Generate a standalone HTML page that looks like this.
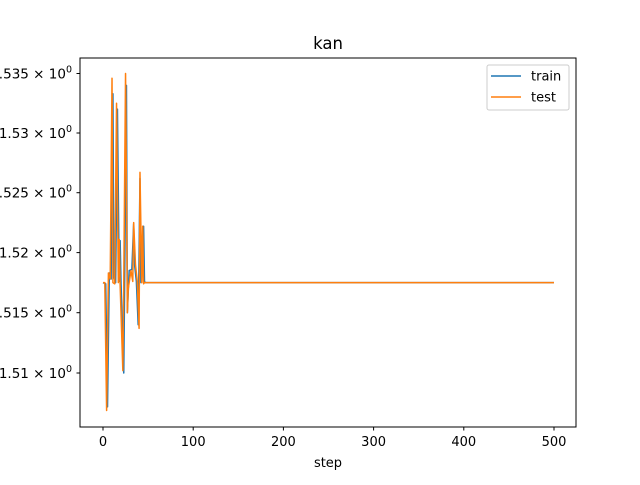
<!DOCTYPE html>
<html><head><meta charset="utf-8"><style>
body{margin:0;background:#fff}
svg{font-family:"DejaVu Sans","Liberation Sans",sans-serif}
</style></head><body>
<svg id="chart" width="640" height="480">
<rect width="640" height="480" fill="#fff"/>
<text x="328" y="49" font-size="16.5" text-anchor="middle">kan</text>
<g id="plot"></g>
<rect x="80" y="58" width="496" height="369" fill="none" stroke="#000" stroke-width="1"/>
<g id="axes"></g>
<text x="328" y="467" font-size="13" text-anchor="middle">step</text>
<g>
<rect x="487" y="65" width="82" height="45" rx="2" fill="#fff" stroke="#ccc"/>
<line x1="491" y1="76" x2="521" y2="76" stroke="#1f77b4" stroke-width="1.5"/>
<text x="531" y="80.5" font-size="13">train</text>
<line x1="491" y1="97" x2="521" y2="97" stroke="#ff7f0e" stroke-width="1.5"/>
<text x="531" y="101.5" font-size="13">test</text>
</g>
</svg>
<script>
const trainSteps = [0,3,5,7,9,11,12,14,16,18,19,20,23,24,26,27,29,32,34,35,37,39,41,42,43,45,46,47,48,500];
const trainValues = [1.5175,1.5174,1.5072,1.5183,1.5178,1.5333,1.5180,1.5175,1.5320,1.5176,1.5210,1.5174,1.5100,1.5176,1.5340,1.5150,1.5185,1.5186,1.5224,1.5190,1.5176,1.5140,1.5262,1.5175,1.5176,1.5222,1.5176,1.5175,1.5175,1.5175];
const testSteps = [0,2,4,6,8,10,11,13,15,17,18,19,22,23,25,27,28,31,33,34,36,38,40,41,43,44,45,46,47,500];
const testValues = [1.5175,1.5175,1.5069,1.5183,1.5178,1.5346,1.5175,1.5174,1.5325,1.5175,1.5211,1.5173,1.5102,1.5174,1.5350,1.5150,1.5170,1.5185,1.5176,1.5225,1.5190,1.5176,1.5137,1.5267,1.5175,1.5222,1.5174,1.5175,1.5175,1.5175];
const xTicks = [0,100,200,300,400,500];
const yTicks = [1.51,1.515,1.52,1.525,1.53,1.535];
const yTickLabels = ["1.51","1.515","1.52","1.525","1.53","1.535"];
const NS="http://www.w3.org/2000/svg";
const xs = v => 103 + v*(451/500);
const l0=Math.log(1.51), l1=Math.log(1.535);
const ys = v => 373 - (Math.log(v)-l0)/(l1-l0)*(373-73.5);
const axes=document.getElementById('axes'), plot=document.getElementById('plot');
xTicks.forEach(t=>{
  const l=document.createElementNS(NS,'line');
  l.setAttribute('x1',xs(t));l.setAttribute('x2',xs(t));l.setAttribute('y1',427);l.setAttribute('y2',430.5);l.setAttribute('stroke','#000');
  
  
  axes.appendChild(l);
  const tx=document.createElementNS(NS,'text');
  tx.setAttribute('x',xs(t));tx.setAttribute('y',446);tx.setAttribute('font-size','13');tx.setAttribute('text-anchor','middle');
  tx.textContent=t;
  
  
  axes.appendChild(tx);
});
yTicks.forEach((t,i)=>{
  const l=document.createElementNS(NS,'line');
  l.setAttribute('x1',76.5);l.setAttribute('x2',80);l.setAttribute('y1',ys(t));l.setAttribute('y2',ys(t));l.setAttribute('stroke','#000');
  
  
  axes.appendChild(l);
  const tx=document.createElementNS(NS,'text');
  tx.setAttribute('x',72);tx.setAttribute('y',ys(t)+5);tx.setAttribute('font-size','13.5');tx.setAttribute('text-anchor','end');
  tx.innerHTML=yTickLabels[i]+' \u00d7 10<tspan dy="-6" font-size="9.5">0</tspan>';
  
  
  axes.appendChild(tx);
});
function drawLine(steps,vals,color,name){
  const p=document.createElementNS(NS,'polyline');
  p.setAttribute('points',steps.map((s,i)=>xs(s)+','+ys(vals[i])).join(' '));
  p.setAttribute('fill','none');p.setAttribute('stroke',color);p.setAttribute('stroke-width','1.5');p.setAttribute('stroke-linejoin','round');
  
  
  plot.appendChild(p);
}
drawLine(trainSteps,trainValues,'#1f77b4','train-line');
drawLine(testSteps,testValues,'#ff7f0e','test-line');
</script>
</body></html>
